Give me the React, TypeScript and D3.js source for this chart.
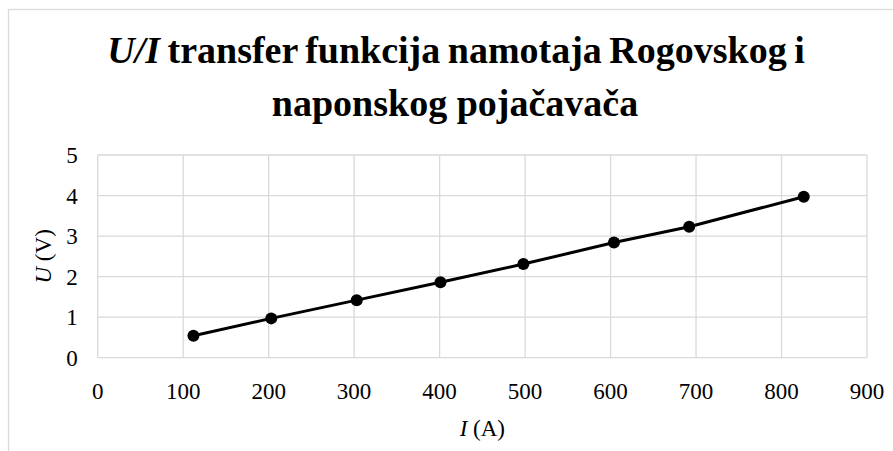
import React, { useEffect, useRef } from 'react';
import * as d3 from 'd3';

const currentA = [112, 203, 303, 401, 498, 604, 692, 826];
const voltageV = [0.54, 0.97, 1.42, 1.86, 2.31, 2.84, 3.23, 3.97];
const xTicks = [0, 100, 200, 300, 400, 500, 600, 700, 800, 900];
const yTicks = [0, 1, 2, 3, 4, 5];
const titleLine1 = ' transfer funkcija namotaja Rogovskog i';
const titleLine2 = 'naponskog pojačavača';

const width = 893;
const height = 451;

const App = () => {
  const svgRef = useRef<SVGSVGElement>(null);

  useEffect(() => {
    const svg = d3.select(svgRef.current);
    svg.selectAll('*').remove();

    const font = '"Liberation Serif", "Times New Roman", serif';
    const margin = { top: 155, right: 26, bottom: 93.3, left: 97.7 };
    const innerWidth = width - margin.left - margin.right;
    const innerHeight = height - margin.top - margin.bottom;

    // chart area border
    svg.append('rect')
      .attr('x', 8.5)
      .attr('y', 9.5)
      .attr('width', 920)
      .attr('height', 460)
      .attr('fill', '#fff')
      .attr('stroke', '#d9d9d9')
      .attr('stroke-width', 1.3);

    // title
    const title = svg.append('text')
      .attr('text-anchor', 'middle')
      .attr('font-family', font)
      .attr('font-weight', 'bold')
      .attr('font-size', 38)
      .attr('fill', '#000');
    const t1 = title.append('tspan')
      .attr('x', 456)
      .attr('y', 63)
      .attr('word-spacing', -2);
    t1.append('tspan').attr('font-style', 'italic').text('U/I');
    t1.append('tspan').text(titleLine1);
    title.append('tspan').attr('x', 455).attr('y', 116).text(titleLine2);

    const x = d3.scaleLinear().domain([0, 900]).range([0, innerWidth]);
    const y = d3.scaleLinear().domain([0, 5]).range([innerHeight, 0]);

    const g = svg.append('g')
      .attr('transform', `translate(${margin.left},${margin.top})`);

    // gridlines
    g.selectAll('.vgrid')
      .data(xTicks)
      .enter()
      .append('line')
      .attr('x1', d => x(d))
      .attr('x2', d => x(d))
      .attr('y1', 0)
      .attr('y2', innerHeight)
      .attr('stroke', '#d9d9d9')
      .attr('stroke-width', 1.3);

    g.selectAll('.hgrid')
      .data(yTicks)
      .enter()
      .append('line')
      .attr('x1', 0)
      .attr('x2', innerWidth)
      .attr('y1', d => y(d))
      .attr('y2', d => y(d))
      .attr('stroke', '#d9d9d9')
      .attr('stroke-width', 1.3);

    // tick labels
    g.selectAll('.xlab')
      .data(xTicks)
      .enter()
      .append('text')
      .attr('x', d => x(d))
      .attr('y', innerHeight + 41)
      .attr('text-anchor', 'middle')
      .attr('font-family', font)
      .attr('font-size', 23)
      .attr('fill', '#000')
      .text(d => d);

    g.selectAll('.ylab')
      .data(yTicks)
      .enter()
      .append('text')
      .attr('x', -20)
      .attr('y', d => y(d) + 8)
      .attr('text-anchor', 'end')
      .attr('font-family', font)
      .attr('font-size', 23)
      .attr('fill', '#000')
      .text(d => d);

    // axis titles
    const xTitle = g.append('text')
      .attr('x', innerWidth / 2)
      .attr('y', innerHeight + 78)
      .attr('text-anchor', 'middle')
      .attr('font-family', font)
      .attr('font-size', 23)
      .attr('fill', '#000');
    xTitle.append('tspan').attr('font-style', 'italic').text('I');
    xTitle.append('tspan').text(' (A)');

    const yTitle = g.append('text')
      .attr('transform', `translate(${-47},${innerHeight / 2}) rotate(-90)`)
      .attr('text-anchor', 'middle')
      .attr('font-family', font)
      .attr('font-size', 23)
      .attr('fill', '#000');
    yTitle.append('tspan').attr('font-style', 'italic').text('U');
    yTitle.append('tspan').text(' (V)');

    // series
    const points = currentA.map((c, i) => ({ c, u: voltageV[i] }));

    const line = d3.line<{ c: number; u: number }>()
      .x(d => x(d.c))
      .y(d => y(d.u));

    g.append('path')
      .datum(points)
      .attr('fill', 'none')
      .attr('stroke', '#000')
      .attr('stroke-width', 3)
      .attr('stroke-linejoin', 'round')
      .attr('d', line);

    g.selectAll('.pt')
      .data(points)
      .enter()
      .append('circle')
      .attr('cx', d => x(d.c))
      .attr('cy', d => y(d.u))
      .attr('r', 6)
      .attr('fill', '#000');
  }, []);

  return (
    <svg
      ref={svgRef}
      width={width}
      height={height}
      style={{ position: 'absolute', left: 0, top: 0, background: '#fff' }}
    />
  );
};

export default App;
